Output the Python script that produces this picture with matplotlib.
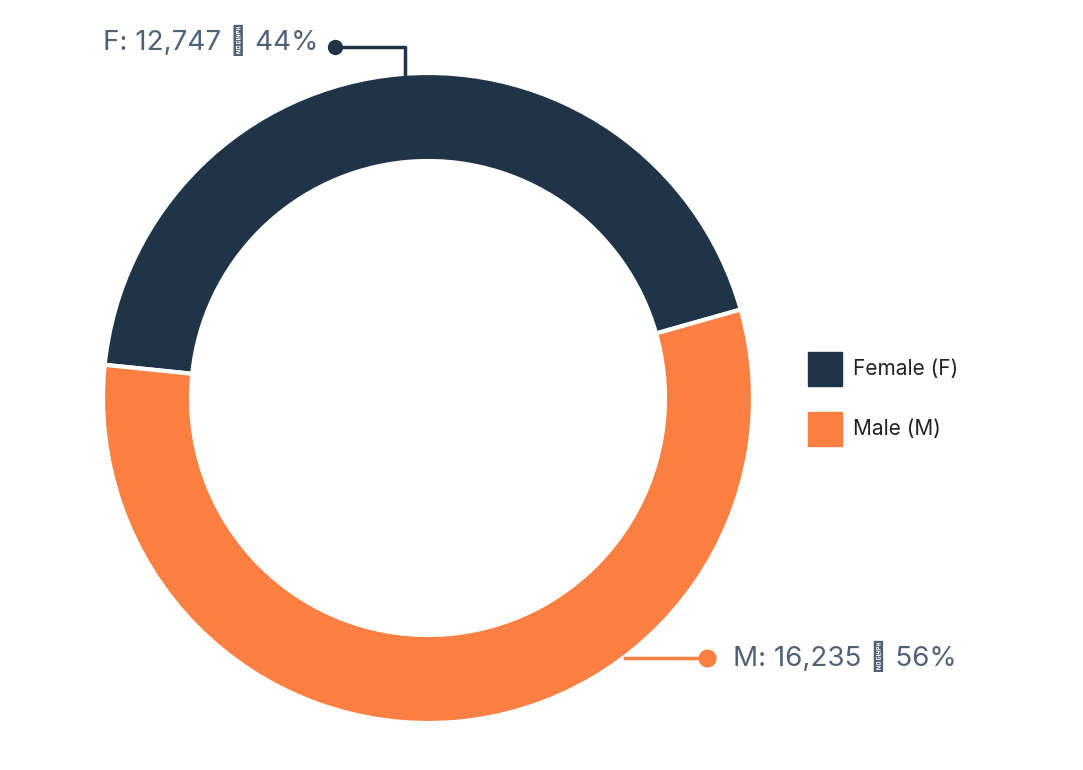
import matplotlib
matplotlib.use("Agg")
import matplotlib.pyplot as plt
from matplotlib.patches import Rectangle

categories = ["Female (F)", "Male (M)"]
short = ["F", "M"]
values = [12747, 16235]
colors = ["#1f3447", "#fd7f41"]
txtc = "#4f6175"

fig = plt.figure(figsize=(10.83, 7.70), dpi=100)
ax = fig.add_axes([0, 0, 1, 1])
ax.set_xlim(0, 1083); ax.set_ylim(0, 770); ax.axis("off")
H = 770
cx, cy, R = 428, H - 398, 325
ax.pie(values, colors=colors, startangle=15.8, counterclock=True, center=(cx, cy), radius=R,
       wedgeprops=dict(width=88, edgecolor="white", linewidth=3), frame=True)
ax.set_xlim(0, 1083); ax.set_ylim(0, 770); ax.axis("off")
total = sum(values)
pct = [round(v / total * 100) for v in values]
plt.rcParams["font.family"] = "Inter"

# Female label
ax.plot([335, 405, 405], [H - 47, H - 47, H - 75], color=colors[0], lw=2.5)
ax.plot(335, H - 47, "o", color=colors[0], ms=10)
ax.text(318, H - 40, f"{short[0]}: {values[0]:,} │ {pct[0]}%", ha="right", va="center",
        fontsize=20, color=txtc, family="Inter")
# Male label
ax.plot([625, 707], [H - 658, H - 658], color=colors[1], lw=2.5)
ax.plot(707, H - 658, "o", color=colors[1], ms=12)
ax.text(733, H - 656, f"{short[1]}: {values[1]:,} │ {pct[1]}%", ha="left", va="center",
        fontsize=20, color=txtc, family="Inter")
# Legend
for i, (c, lab) in enumerate(zip(colors, categories)):
    y = 352 + i * 60
    ax.add_patch(Rectangle((808, H - y - 34), 34, 34, color=c))
    ax.text(853, H - y - 17, lab, ha="left", va="center", fontsize=15, color="#222222", family="Inter")

fig.savefig("out.png", dpi=100, facecolor="white")
